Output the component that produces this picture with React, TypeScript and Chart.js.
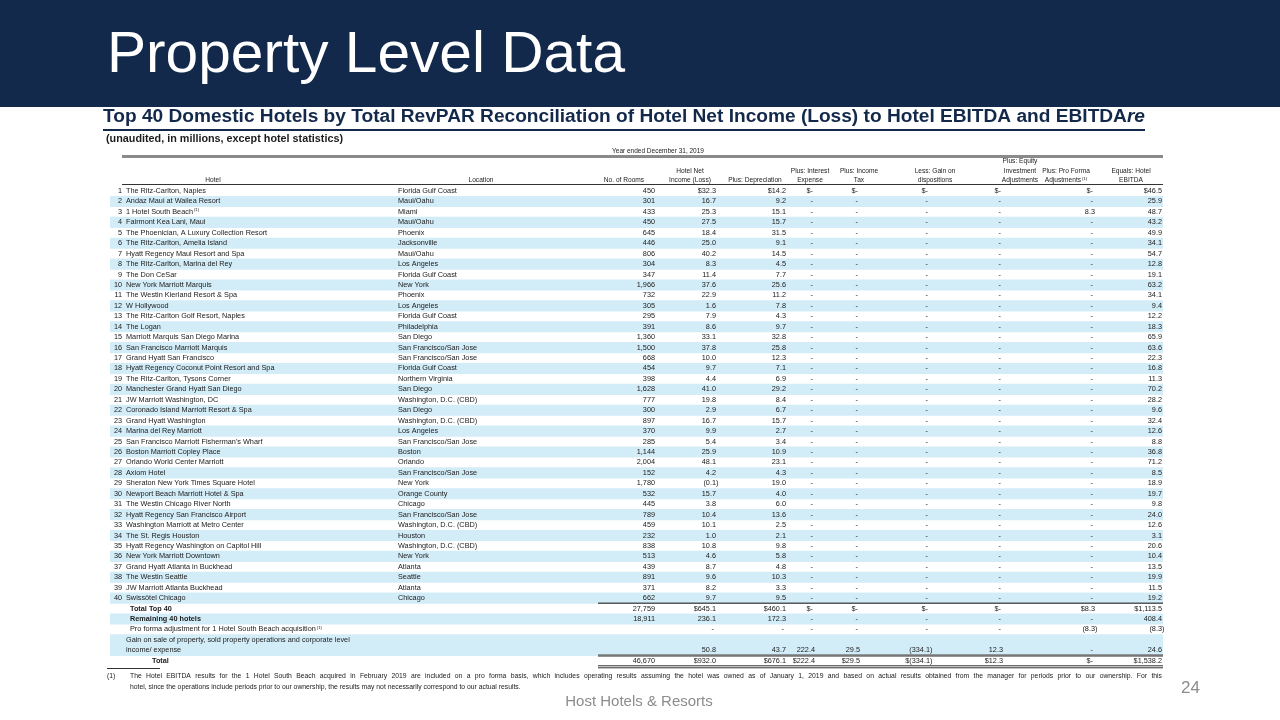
import React, { useEffect, useRef } from "react";
import { Chart, registerables } from "chart.js";
Chart.register(...registerables);

// ---------------- DATA ----------------
const hotelNames = [
  "The Ritz-Carlton, Naples",
  "Andaz Maui at Wailea Resort",
  "1 Hotel South Beach",
  "Fairmont Kea Lani, Maui",
  "The Phoenician, A Luxury Collection Resort",
  "The Ritz-Carlton, Amelia Island",
  "Hyatt Regency Maui Resort and Spa",
  "The Ritz-Carlton, Marina del Rey",
  "The Don CeSar",
  "New York Marriott Marquis",
  "The Westin Kierland Resort & Spa",
  "W Hollywood",
  "The Ritz-Carlton Golf Resort, Naples",
  "The Logan",
  "Marriott Marquis San Diego Marina",
  "San Francisco Marriott Marquis",
  "Grand Hyatt San Francisco",
  "Hyatt Regency Coconut Point Resort and Spa",
  "The Ritz-Carlton, Tysons Corner",
  "Manchester Grand Hyatt San Diego",
  "JW Marriott Washington, DC",
  "Coronado Island Marriott Resort & Spa",
  "Grand Hyatt Washington",
  "Marina del Rey Marriott",
  "San Francisco Marriott Fisherman's Wharf",
  "Boston Marriott Copley Place",
  "Orlando World Center Marriott",
  "Axiom Hotel",
  "Sheraton New York Times Square Hotel",
  "Newport Beach Marriott Hotel & Spa",
  "The Westin Chicago River North",
  "Hyatt Regency San Francisco Airport",
  "Washington Marriott at Metro Center",
  "The St. Regis Houston",
  "Hyatt Regency Washington on Capitol Hill",
  "New York Marriott Downtown",
  "Grand Hyatt Atlanta in Buckhead",
  "The Westin Seattle",
  "JW Marriott Atlanta Buckhead",
  "Swissôtel Chicago",
];
const hotelFootnoteMarks = [
  "", "", "(1)", "", "", "", "", "", "", "",
  "", "", "", "", "", "", "", "", "", "",
  "", "", "", "", "", "", "", "", "", "",
  "", "", "", "", "", "", "", "", "", "",
];
const locations = [
  "Florida Gulf Coast", "Maui/Oahu", "Miami", "Maui/Oahu", "Phoenix",
  "Jacksonville", "Maui/Oahu", "Los Angeles", "Florida Gulf Coast", "New York",
  "Phoenix", "Los Angeles", "Florida Gulf Coast", "Philadelphia", "San Diego",
  "San Francisco/San Jose", "San Francisco/San Jose", "Florida Gulf Coast", "Northern Virginia", "San Diego",
  "Washington, D.C. (CBD)", "San Diego", "Washington, D.C. (CBD)", "Los Angeles", "San Francisco/San Jose",
  "Boston", "Orlando", "San Francisco/San Jose", "New York", "Orange County",
  "Chicago", "San Francisco/San Jose", "Washington, D.C. (CBD)", "Houston", "Washington, D.C. (CBD)",
  "New York", "Atlanta", "Seattle", "Atlanta", "Chicago",
];
const rooms = [
  450, 301, 433, 450, 645, 446, 806, 304, 347, 1966,
  732, 305, 295, 391, 1360, 1500, 668, 454, 398, 1628,
  777, 300, 897, 370, 285, 1144, 2004, 152, 1780, 532,
  445, 789, 459, 232, 838, 513, 439, 891, 371, 662,
];
const hotelNetIncome = [
  32.3, 16.7, 25.3, 27.5, 18.4, 25.0, 40.2, 8.3, 11.4, 37.6,
  22.9, 1.6, 7.9, 8.6, 33.1, 37.8, 10.0, 9.7, 4.4, 41.0,
  19.8, 2.9, 16.7, 9.9, 5.4, 25.9, 48.1, 4.2, -0.1, 15.7,
  3.8, 10.4, 10.1, 1.0, 10.8, 4.6, 8.7, 9.6, 8.2, 9.7,
];
const depreciation = [
  14.2, 9.2, 15.1, 15.7, 31.5, 9.1, 14.5, 4.5, 7.7, 25.6,
  11.2, 7.8, 4.3, 9.7, 32.8, 25.8, 12.3, 7.1, 6.9, 29.2,
  8.4, 6.7, 15.7, 2.7, 3.4, 10.9, 23.1, 4.3, 19.0, 4.0,
  6.0, 13.6, 2.5, 2.1, 9.8, 5.8, 4.8, 10.3, 3.3, 9.5,
];
const interestExpense = [
  0, 0, 0, 0, 0, 0, 0, 0, 0, 0,
  0, 0, 0, 0, 0, 0, 0, 0, 0, 0,
  0, 0, 0, 0, 0, 0, 0, 0, 0, 0,
  0, 0, 0, 0, 0, 0, 0, 0, 0, 0,
];
const incomeTax = [
  0, 0, 0, 0, 0, 0, 0, 0, 0, 0,
  0, 0, 0, 0, 0, 0, 0, 0, 0, 0,
  0, 0, 0, 0, 0, 0, 0, 0, 0, 0,
  0, 0, 0, 0, 0, 0, 0, 0, 0, 0,
];
const gainOnDispositions = [
  0, 0, 0, 0, 0, 0, 0, 0, 0, 0,
  0, 0, 0, 0, 0, 0, 0, 0, 0, 0,
  0, 0, 0, 0, 0, 0, 0, 0, 0, 0,
  0, 0, 0, 0, 0, 0, 0, 0, 0, 0,
];
const equityInvestmentAdj = [
  0, 0, 0, 0, 0, 0, 0, 0, 0, 0,
  0, 0, 0, 0, 0, 0, 0, 0, 0, 0,
  0, 0, 0, 0, 0, 0, 0, 0, 0, 0,
  0, 0, 0, 0, 0, 0, 0, 0, 0, 0,
];
const proFormaAdj = [
  0, 0, 8.3, 0, 0, 0, 0, 0, 0, 0,
  0, 0, 0, 0, 0, 0, 0, 0, 0, 0,
  0, 0, 0, 0, 0, 0, 0, 0, 0, 0,
  0, 0, 0, 0, 0, 0, 0, 0, 0, 0,
];
const hotelEbitda = [
  46.5, 25.9, 48.7, 43.2, 49.9, 34.1, 54.7, 12.8, 19.1, 63.2,
  34.1, 9.4, 12.2, 18.3, 65.9, 63.6, 22.3, 16.8, 11.3, 70.2,
  28.2, 9.6, 32.4, 12.6, 8.8, 36.8, 71.2, 8.5, 18.9, 19.7,
  9.8, 24.0, 12.6, 3.1, 20.6, 10.4, 13.5, 19.9, 11.5, 19.2,
];

// summary rows: rooms, net income, depreciation, interest, tax, gain, equity, pro forma, EBITDA
const totalTop40 = [27759, 645.1, 460.1, 0, 0, 0, 0, 8.3, 1113.5];
const remaining40 = [18911, 236.1, 172.3, 0, 0, 0, 0, 0, 408.4];
const proFormaRow = [null, 0, 0, 0, 0, 0, 0, -8.3, -8.3];
const gainOnSaleRow = [null, 50.8, 43.7, 222.4, 29.5, -334.1, 12.3, 0, 24.6];
const grandTotal = [46670, 932.0, 676.1, 222.4, 29.5, -334.1, 12.3, 0, 1538.2];

const columnHeaders = [
  ["No. of Rooms"],
  ["Hotel Net", "Income (Loss)"],
  ["Plus: Depreciation"],
  ["Plus: Interest", "Expense"],
  ["Plus: Income", "Tax"],
  ["Less: Gain on", "dispositions"],
  ["Plus: Equity", "Investment", "Adjustments"],
  ["Plus: Pro Forma", "Adjustments"],
  ["Equals: Hotel", "EBITDA"],
];
const headerFootnoteMarks = ["", "", "", "", "", "", "", "(1)", ""];

const TITLE = "Property Level Data";
const SUBTITLE = "Top 40 Domestic Hotels by Total RevPAR Reconciliation of Hotel Net Income (Loss) to Hotel EBITDA and EBITDA";
const SUBTITLE_ITALIC = "re";
const UNITS = "(unaudited, in millions, except hotel statistics)";
const PERIOD = "Year ended December 31, 2019";
const FOOTNOTE_1 = "The Hotel EBITDA results for the 1 Hotel South Beach acquired in February 2019 are included on a pro forma basis, which includes operating results assuming the hotel was owned as of January 1, 2019 and based on actual results obtained from the manager for periods prior to our ownership. For this";
const FOOTNOTE_2 = "hotel, since the operations include periods prior to our ownership, the results may not necessarily correspond to our actual results.";
const PAGE = "24";
const COMPANY = "Host Hotels & Resorts";

// ---------------- LAYOUT / STYLE ----------------
const FONT = "'Liberation Sans', Arial, sans-serif";
const NAVY = "#13294B";
const INK = "#1b1b1b";
const STRIPE = "#D3EDF8";
const TABLE_LEFT = 110;
const TABLE_RIGHT = 1163;
const LINE_LEFT = 122;
const RANK_RIGHT = 122;
const NAME_LEFT = 126;
const LOC_LEFT = 398;
const COL_RIGHT = [655, 716, 786, 815, 860, 930, 1003, 1095, 1162];
const COL_HEAD_CENTER = [624, 690, 755, 810, 859, 935, 1020, 1066, 1131];

function fmt(v: number | null, col: number, dollar: boolean): string {
  if (v === null) return "";
  if (col === 0) return v.toLocaleString("en-US");
  if (v === 0) return dollar ? "$-" : "-";
  const s = Math.abs(v).toLocaleString("en-US", { minimumFractionDigits: 1, maximumFractionDigits: 1 });
  if (v < 0) return (dollar ? "$" : "") + "(" + s + ")";
  return (dollar ? "$" : "") + s;
}

function drawNum(ctx: CanvasRenderingContext2D, s: string, xr: number, y: number) {
  if (!s) return;
  ctx.textAlign = "right";
  let x = xr;
  if (s.endsWith(")")) x += ctx.measureText(")").width;
  else if (s.endsWith("-")) x -= 2;
  ctx.fillText(s, x, y);
}

function drawSup(ctx: CanvasRenderingContext2D, main: string, mark: string, x: number, y: number, align: "left" | "center", font: string, supFont: string) {
  ctx.font = font;
  const w1 = ctx.measureText(main).width;
  ctx.font = supFont;
  const w2 = mark ? ctx.measureText(mark).width + 1 : 0;
  const start = align === "center" ? x - (w1 + w2) / 2 : x;
  ctx.textAlign = "left";
  ctx.font = font;
  ctx.fillText(main, start, y);
  if (mark) {
    ctx.font = supFont;
    ctx.fillText(mark, start + w1 + 1, y - 2);
  }
}

function fitParts(ctx: CanvasRenderingContext2D, parts: { t: string; f: string }[], x: number, y: number, width: number) {
  let total = 0;
  for (const p of parts) { ctx.font = p.f; total += ctx.measureText(p.t).width; }
  const k = width / total;
  ctx.save();
  ctx.translate(x, y);
  ctx.scale(k, 1);
  ctx.textAlign = "left";
  let cx = 0;
  for (const p of parts) { ctx.font = p.f; ctx.fillText(p.t, cx, 0); cx += ctx.measureText(p.t).width; }
  ctx.restore();
}

function justify(ctx: CanvasRenderingContext2D, s: string, x: number, y: number, width: number) {
  const words = s.split(" ");
  const ws = words.map((w) => ctx.measureText(w).width);
  const sum = ws.reduce((a, b) => a + b, 0);
  const gap = (width - sum) / (words.length - 1);
  ctx.textAlign = "left";
  let cx = x;
  words.forEach((w, i) => { ctx.fillText(w, cx, y); cx += ws[i] + gap; });
}

const rowKeys = [
  ...hotelNames.map((_, i) => "hotel" + (i + 1)),
  "totalTop40", "remaining40", "proForma", "gainOnSale1", "gainOnSale2", "total",
];
const stripedRow = (i: number) => (i < 40 ? i % 2 === 1 : i === 41 || i === 43 || i === 44);

const tablePlugin = {
  id: "tableText",
  beforeDatasetsDraw(chart: any) {
    const ctx: CanvasRenderingContext2D = chart.ctx;
    ctx.save();
    ctx.fillStyle = NAVY;
    ctx.fillRect(0, 0, 1280, 107);
    ctx.fillStyle = "#ffffff";
    ctx.textBaseline = "alphabetic";
    ctx.textAlign = "left";
    fitParts(ctx, [{ t: TITLE, f: `57px ${FONT}` }], 107, 72, 518);
    ctx.fillStyle = NAVY;
    fitParts(ctx, [
      { t: SUBTITLE, f: `bold 18px ${FONT}` },
      { t: SUBTITLE_ITALIC, f: `italic bold 18px ${FONT}` },
    ], 103, 122, 1042);
    ctx.fillRect(103, 129, 1042, 2);
    ctx.fillStyle = INK;
    fitParts(ctx, [{ t: UNITS, f: `bold 10px ${FONT}` }], 106, 142, 237);
    ctx.restore();
  },
  afterDatasetsDraw(chart: any) {
    const ctx: CanvasRenderingContext2D = chart.ctx;
    const ys = chart.scales.y;
    ctx.save();
    ctx.fillStyle = INK;
    ctx.textBaseline = "middle";

    ctx.font = `6.5px ${FONT}`;
    ctx.textAlign = "center";
    ctx.fillText(PERIOD, 658, 151.5);
    ctx.fillStyle = "#8a8a8a";
    ctx.fillRect(LINE_LEFT, 155, TABLE_RIGHT - LINE_LEFT, 3);
    ctx.fillStyle = INK;

    const hf = `6.6px ${FONT}`;
    const sf = `4.3px ${FONT}`;
    ctx.font = hf;
    ctx.textAlign = "center";
    ctx.fillText("Hotel", 213, 180.5);
    ctx.fillText("Location", 481, 180.5);
    columnHeaders.forEach((lines, c) => {
      const n = lines.length;
      lines.forEach((ln, j) => {
        const y = 180.5 - (n - 1 - j) * 9.5;
        const mark = j === n - 1 ? headerFootnoteMarks[c] : "";
        drawSup(ctx, ln, mark, COL_HEAD_CENTER[c], y, "center", hf, sf);
      });
    });
    ctx.fillStyle = "#333";
    ctx.fillRect(LINE_LEFT, 184, TABLE_RIGHT - LINE_LEFT, 1);
    ctx.fillStyle = INK;

    const bf = `7.3px ${FONT}`;
    for (let i = 0; i < 40; i++) {
      const y = ys.getPixelForValue(i);
      ctx.font = bf;
      ctx.textAlign = "right";
      ctx.fillText(String(i + 1), RANK_RIGHT, y);
      drawSup(ctx, hotelNames[i], hotelFootnoteMarks[i], NAME_LEFT, y, "left", bf, `4.3px ${FONT}`);
      ctx.font = bf;
      ctx.textAlign = "left";
      ctx.fillText(locations[i], LOC_LEFT, y);
      const vals = [rooms[i], hotelNetIncome[i], depreciation[i], interestExpense[i], incomeTax[i],
        gainOnDispositions[i], equityInvestmentAdj[i], proFormaAdj[i], hotelEbitda[i]];
      vals.forEach((v, c) => drawNum(ctx, fmt(v, c, i === 0 && c > 0), COL_RIGHT[c], y));
    }

    const summary = [
      { row: 40, label: "Total Top 40", bold: true, x: 130, vals: totalTop40, dollar: true },
      { row: 41, label: "Remaining 40 hotels", bold: true, x: 130, vals: remaining40, dollar: false },
      { row: 42, label: "Pro forma adjustment for 1 Hotel South Beach acquisition", mark: "(1)", bold: false, x: 130, vals: proFormaRow, dollar: false },
      { row: 43, label: "Gain on sale of property, sold property operations and corporate level", bold: false, x: 126, vals: null, dollar: false },
      { row: 44, label: "income/ expense", bold: false, x: 126, vals: gainOnSaleRow, dollar: false },
      { row: 45, label: "Total", bold: true, x: 152, vals: grandTotal, dollar: true },
    ];
    summary.forEach((s: any) => {
      const y = ys.getPixelForValue(s.row);
      const f = `${s.bold ? "bold " : ""}7.3px ${FONT}`;
      drawSup(ctx, s.label, s.mark || "", s.x, y, "left", f, `4.3px ${FONT}`);
      ctx.font = bf;
      if (s.vals) s.vals.forEach((v: number | null, c: number) => drawNum(ctx, fmt(v, c, s.dollar && c > 0), COL_RIGHT[c], y));
    });

    const yTop40 = ys.getPixelForValue(40);
    const yTotal = ys.getPixelForValue(45);
    ctx.fillStyle = "#333";
    ctx.fillRect(598, yTop40 - 6, TABLE_RIGHT - 598, 1.2);
    ctx.fillStyle = "#777";
    ctx.fillRect(598, yTotal - 6.5, TABLE_RIGHT - 598, 2.5);
    ctx.fillStyle = "#333";
    ctx.fillRect(598, yTotal + 4.5, TABLE_RIGHT - 598, 1);
    ctx.fillRect(598, yTotal + 6.5, TABLE_RIGHT - 598, 1);
    ctx.fillRect(107, 668, 53, 1);

    ctx.fillStyle = INK;
    ctx.font = `6.8px ${FONT}`;
    ctx.textAlign = "left";
    ctx.fillText("(1)", 107, 676);
    justify(ctx, FOOTNOTE_1, 130, 676, 1162 - 130);
    ctx.fillText(FOOTNOTE_2, 130, 687);

    ctx.fillStyle = "#8c8c8c";
    ctx.textBaseline = "alphabetic";
    ctx.font = `17px ${FONT}`;
    ctx.textAlign = "left";
    ctx.fillText(PAGE, 1181, 693);
    ctx.font = `15px ${FONT}`;
    ctx.textAlign = "center";
    ctx.fillText(COMPANY, 639, 706);
    ctx.restore();
  },
};

export default function App() {
  const ref = useRef<HTMLCanvasElement | null>(null);
  useEffect(() => {
    if (!ref.current) return;
    const chart = new Chart(ref.current, {
      type: "bar",
      data: {
        labels: rowKeys,
        datasets: [
          {
            data: rowKeys.map((_, i) => (stripedRow(i) ? [0, 1] : null)) as any,
            backgroundColor: STRIPE,
            borderWidth: 0,
            barPercentage: 1,
            categoryPercentage: 1,
          },
        ],
      },
      options: {
        indexAxis: "y",
        animation: false,
        responsive: false,
        devicePixelRatio: 1,
        events: [],
        layout: { padding: { left: TABLE_LEFT, right: 1280 - TABLE_RIGHT, top: 185.8, bottom: 720 - 666.0 } },
        plugins: { legend: { display: false }, tooltip: { enabled: false }, title: { display: false } },
        scales: {
          x: { type: "linear", min: 0, max: 1, display: false },
          y: { type: "category", display: false, offset: true, grid: { display: false } },
        },
      },
      plugins: [tablePlugin],
    });
    return () => chart.destroy();
  }, []);
  return (
    <div style={{ position: "fixed", left: 0, top: 0, width: 1280, height: 720, background: "#fff" }}>
      <canvas ref={ref} width={1280} height={720} style={{ display: "block", width: 1280, height: 720 }} />
    </div>
  );
}
